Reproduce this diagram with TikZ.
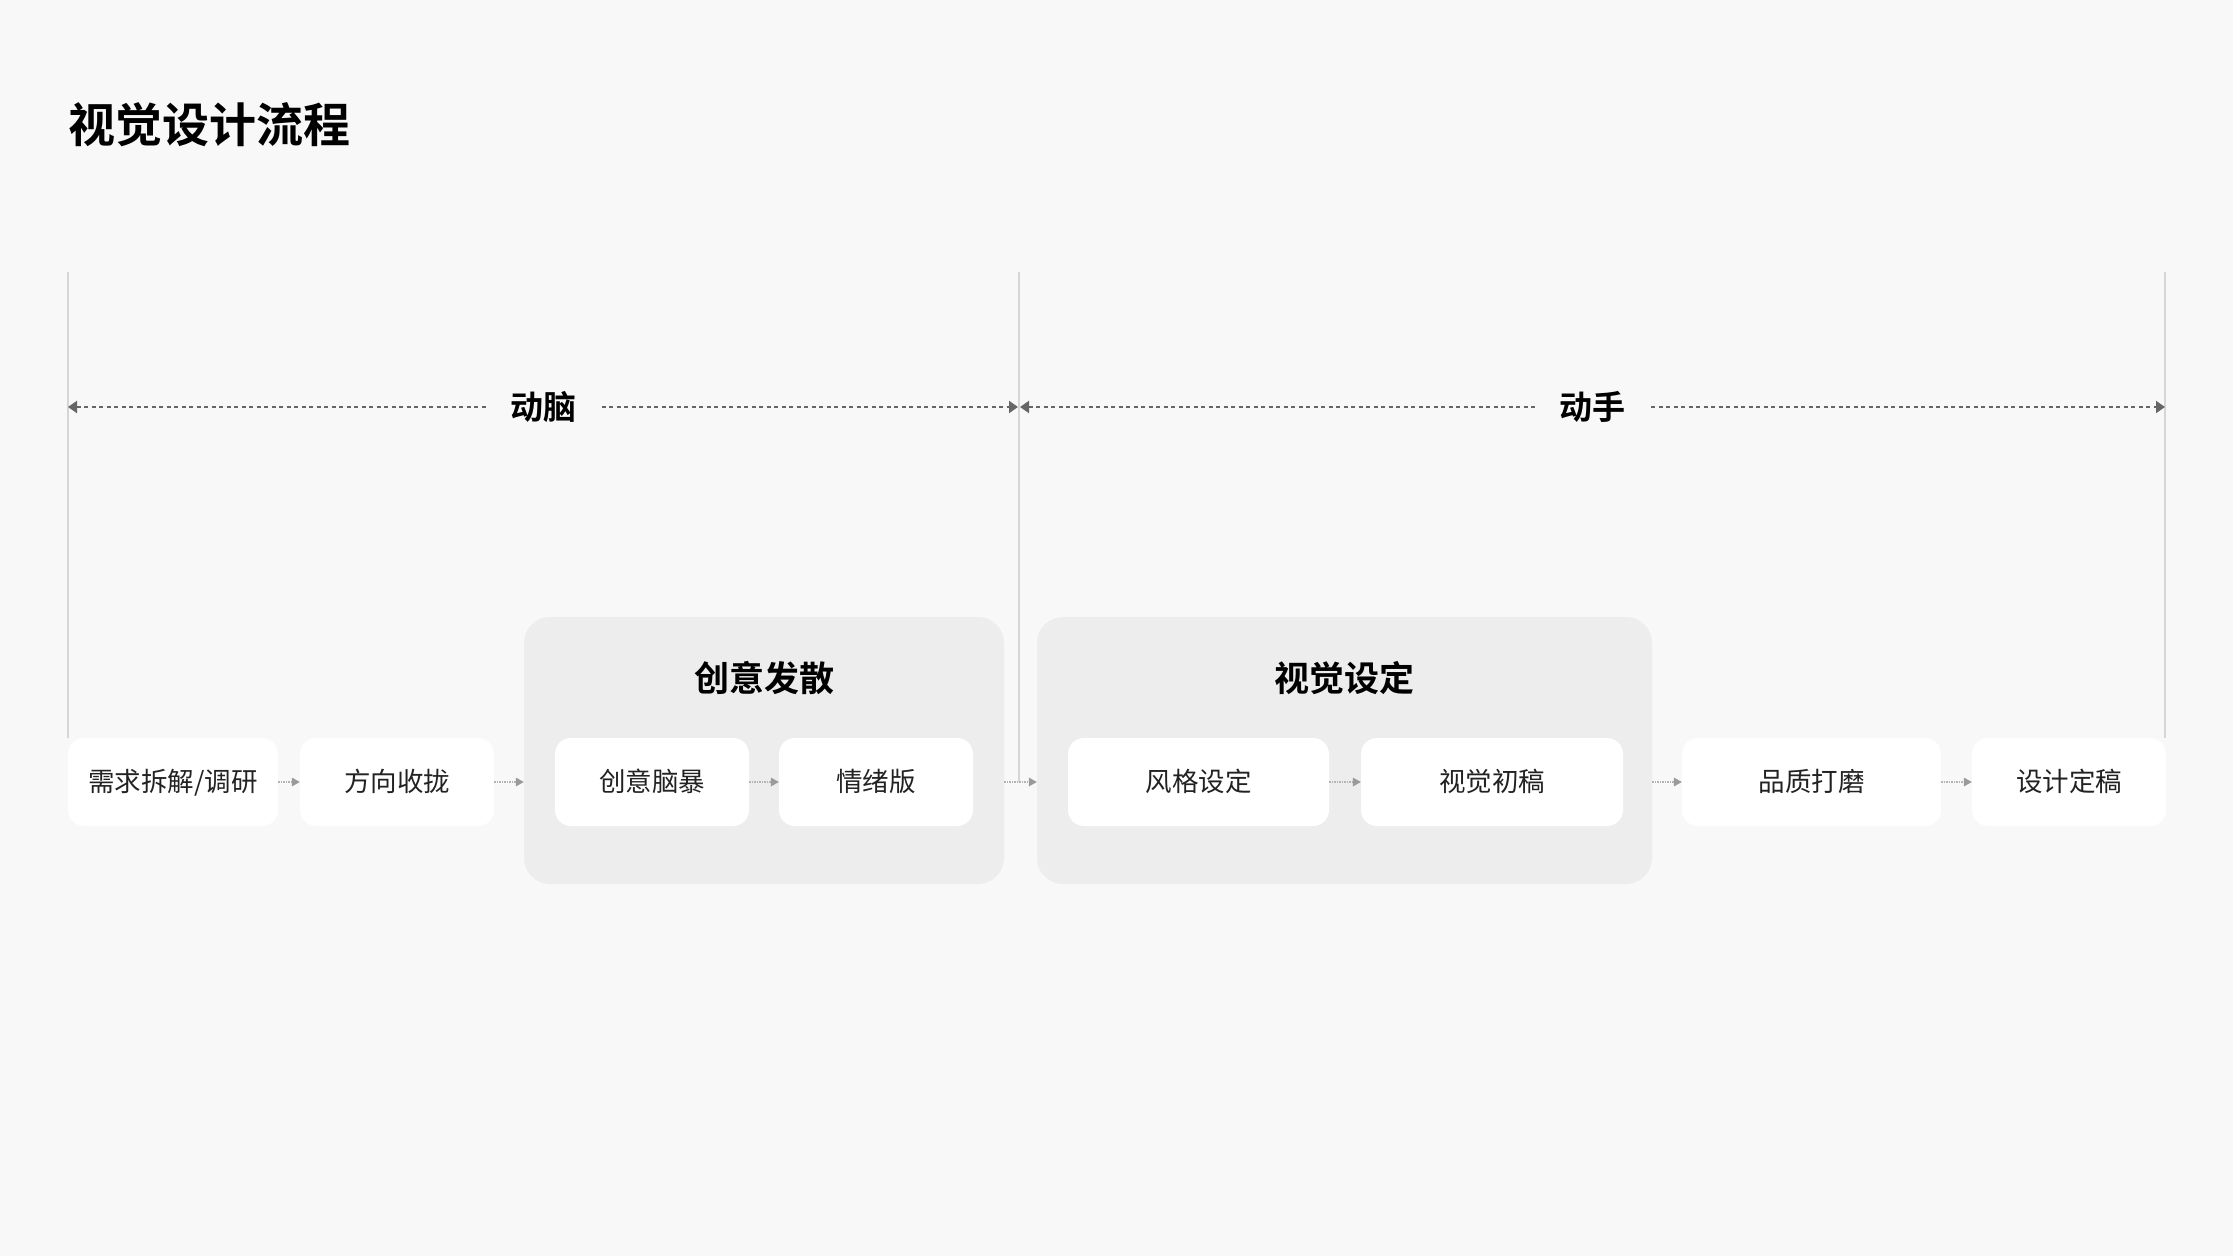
\documentclass[tikz,border=0pt]{standalone}
\usepackage{fontspec}
\setmainfont{Noto Sans CJK SC}[BoldFont={* Bold}]
\usepackage{xcolor}
\usepackage{tikz}
\usetikzlibrary{arrows.meta}

\definecolor{bgc}{HTML}{F8F8F8}
\definecolor{grpc}{HTML}{EDEDED}
\definecolor{guidec}{HTML}{D6D6D6}
\definecolor{spanc}{HTML}{666666}
\definecolor{flowc}{HTML}{B4B4B4}
\definecolor{tipc}{HTML}{9A9A9A}
\definecolor{txtc}{HTML}{222222}

\begin{document}
\begin{tikzpicture}[
					x=1pt, y=-1pt,
					stage/.style={
						rectangle, fill=white, rounded corners=16pt,
						minimum height=88pt, inner sep=0pt,
						text height=22pt, text depth=3pt,
						font=\fontsize{26.5}{30}\selectfont, text=txtc
					},
					grp/.style={
						rectangle, fill=grpc, rounded corners=26pt,
						minimum height=267pt, inner sep=0pt
					},
					grp_title/.style={
						font=\fontsize{35}{40}\selectfont\bfseries, text=black
					},
					phase_label/.style={
						fill=bgc, inner xsep=24pt, inner ysep=4pt,
						font=\fontsize{33}{38}\selectfont\bfseries, text=black
					},
					guide/.style={draw=guidec, line width=2pt},
					span/.style={
						draw=spanc, line width=2pt, dash pattern=on 4pt off 3.5pt,
						{Triangle[length=9pt,width=12pt,color=spanc]}-{Triangle[length=9pt,width=12pt,color=spanc]}
					},
					flow/.style={
						draw=flowc, line width=1.5pt, dash pattern=on 1.5pt off 1pt,
						-{Triangle[length=8pt,width=9pt,color=tipc,line width=0pt]}
					}
					]
					
					% --- page ---
					\fill[bgc] (0,0) rectangle (2233,1256);
					\useasboundingbox (0,0) rectangle (2233,1256);
					
					\node[anchor=west, inner sep=0pt, font=\fontsize{47}{52}\selectfont\bfseries] (title) at (68,125) {视觉设计流程};
					
					% --- groups ---
					\node[grp, minimum width=480pt] (g1) at (764,750.5) {};
					\node[grp, minimum width=615pt] (g2) at (1344.5,750.5) {};
					\node[grp_title] (g1t) at (764,678) {创意发散};
					\node[grp_title] (g2t) at (1344.5,678) {视觉设定};
					
					% --- stages ---
					\node[stage, minimum width=210pt] (s1) at (173,782) {需求拆解/调研};
					\node[stage, minimum width=194pt] (s2) at (397,782) {方向收拢};
					\node[stage, minimum width=194pt] (s3) at (652,782) {创意脑暴};
					\node[stage, minimum width=194pt] (s4) at (876,782) {情绪版};
					\node[stage, minimum width=261pt] (s5) at (1198.5,782) {风格设定};
					\node[stage, minimum width=262pt] (s6) at (1492,782) {视觉初稿};
					\node[stage, minimum width=259pt] (s7) at (1811.5,782) {品质打磨};
					\node[stage, minimum width=194pt] (s8) at (2069,782) {设计定稿};
					
					% --- guides ---
					\coordinate (top1) at (68,272);
					\coordinate (top2) at (1019,272);
					\coordinate (top3) at (2165,272);
					\draw[guide] (top1) -- (top1 |- s1.north);
					\draw[guide] (top2) -- (top2 |- s4.east);
					\draw[guide] (top3) -- (top3 |- s8.north);
					
					% --- phases ---
					\coordinate (p1) at (68,407);
					\coordinate (p2) at (1018,407);
					\coordinate (p3) at (1020,407);
					\coordinate (p4) at (2165,407);
					\draw[span] (p1) -- (p2);
					\draw[span] (p3) -- (p4);
					\node[phase_label] (think) at (543,407) {动脑};
					\node[phase_label] (make) at (1592,407) {动手};
					
					% --- flow ---
					\draw[flow] (s1) -- (s2);
					\draw[flow] (s2.east) -- (s2.east -| g1.west);
					\draw[flow] (s3) -- (s4);
					\draw[flow] (s4.east -| g1.east) -- (s5.west -| g2.west);
					\draw[flow] (s5) -- (s6);
					\draw[flow] (s6.east -| g2.east) -- (s7.west);
					\draw[flow] (s7) -- (s8);
					
				\end{tikzpicture}
\end{document}
